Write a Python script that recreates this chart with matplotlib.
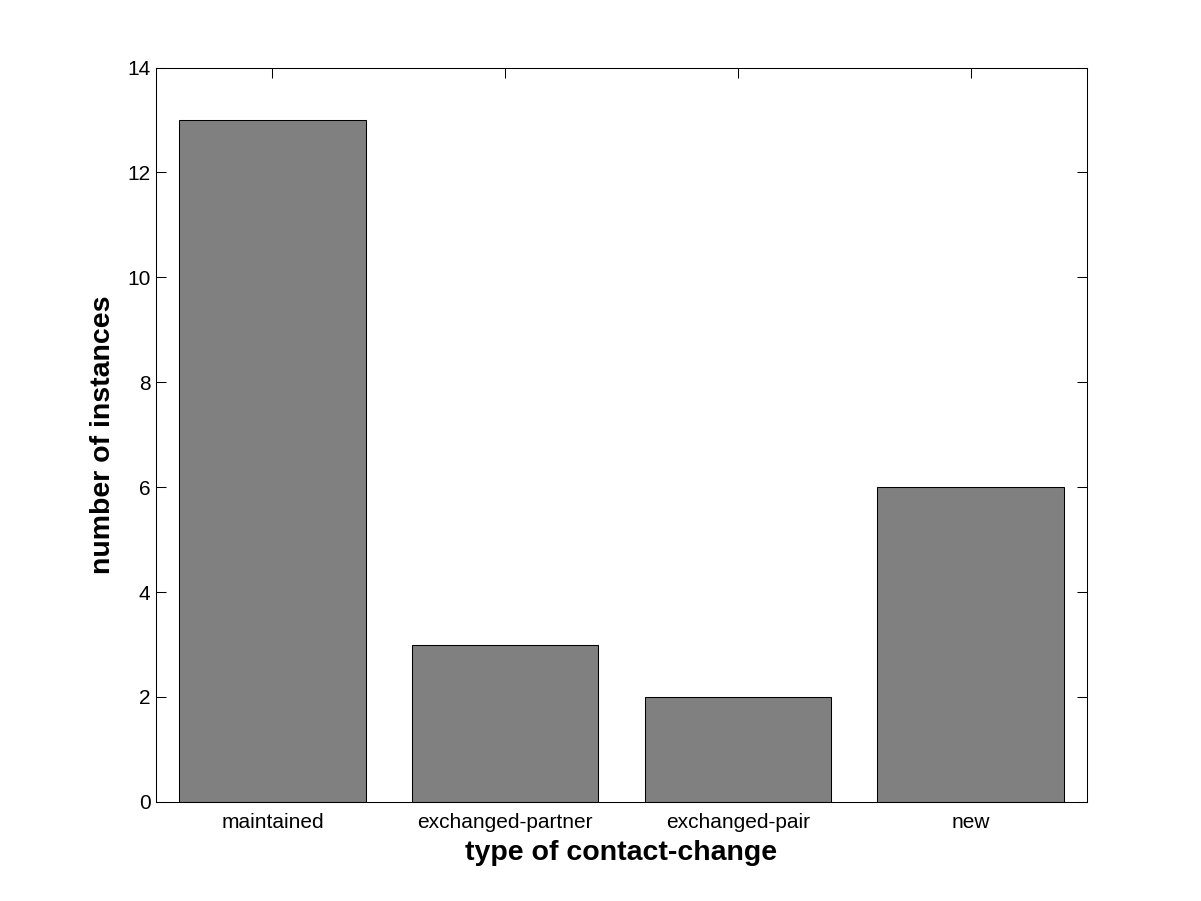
import numpy as np
import matplotlib.pyplot as plt

plt.rcParams['font.family'] = ['Liberation Sans', 'DejaVu Sans']

categories = ['maintained', 'exchanged-partner', 'exchanged-pair', 'new']
counts = [13, 3, 2, 6]

fig = plt.figure(figsize=(12.01, 9.01), dpi=100)
ax = fig.add_axes([0.130, 0.110, 0.775, 0.815])

x = np.arange(1, len(categories) + 1)
ax.bar(x, counts, width=0.8, color='#808080', edgecolor='black', linewidth=0.75)
ax.set_axisbelow(True)

ax.set_xlim(0.5, 4.5)
ax.set_ylim(0, 14)
ax.set_xticks(x)
ax.set_xticklabels(categories)
ax.set_yticks(np.arange(0, 15, 2))
ax.tick_params(direction='in', top=True, right=True, labelsize=15, length=7.5, width=0.75)
ax.tick_params(axis='x', pad=8)
ax.tick_params(axis='y', pad=4)
for s in ax.spines.values():
    s.set_linewidth(0.75)

ax.set_xlabel('type of contact-change', fontsize=20.5, fontweight='bold', labelpad=6)
ax.set_ylabel('number of instances', fontsize=20.5, fontweight='bold', labelpad=8)

fig.savefig('out.png', dpi=100)
